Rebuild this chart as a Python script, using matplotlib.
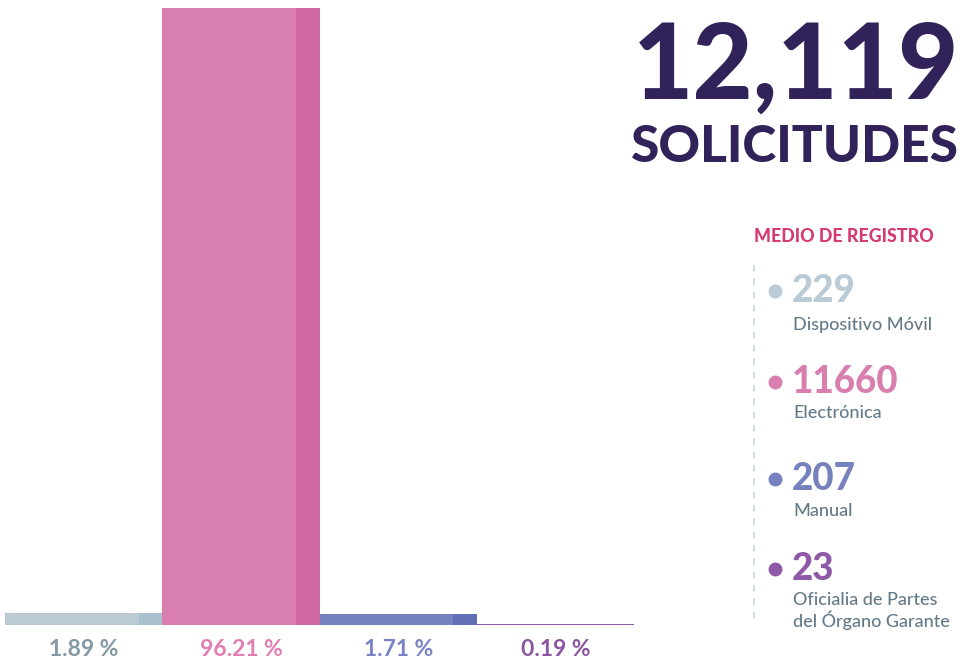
import matplotlib
matplotlib.use("Agg")
import matplotlib.pyplot as plt

categories = ["Dispositivo Móvil", "Electrónica", "Manual", "Oficialia de Partes\ndel Órgano Garante"]
counts = [229, 11660, 207, 23]
percents = [1.89, 96.21, 1.71, 0.19]
pct_labels = ["1.89 %", "96.21 %", "1.71 %", "0.19 %"]
total_label = "12,119"

main_colors = ["#bacbd6", "#d97fb0", "#7681c0", "#8e5aa8"]
dark_colors = ["#a9c0cd", "#d068a4", "#636db5", "#8e5aa8"]
pct_colors = ["#8399a3", "#e07fb2", "#7a84c4", "#8b559f"]
num_colors = ["#bacbd6", "#d97fb0", "#7681c0", "#8e5aa8"]
label_color = "#647a8a"
title_color = "#31225a"

W, H = 960, 659
fig = plt.figure(figsize=(W / 100, H / 100), dpi=100)

def fx(px):
    return px / W

def fy(py):
    return 1 - py / H

ax = fig.add_axes([fx(5), fy(625), fx(634) - fx(5), fy(8) - fy(625)])
n = len(percents)
xs = list(range(n))
ax.bar(xs, percents, width=1.0, align="edge", color=main_colors, linewidth=0)
ax.bar([x + 0.85 for x in xs], percents, width=0.15, align="edge", color=dark_colors, linewidth=0)
ax.set_xlim(0, n)
ax.set_ylim(0, max(percents))
ax.axis("off")

for x, lab, c in zip(xs, pct_labels, pct_colors):
    ax.annotate(lab, xy=(x + 0.5, 0), xycoords="data", xytext=(0, -24),
                textcoords="offset pixels", ha="center", va="center",
                fontsize=16.5, fontweight="bold", color=c, family="Lato")

# Title
fig.text(fx(959), fy(68), total_label, ha="right", va="center", fontsize=75,
         fontweight="black", color=title_color, family="Lato")
fig.text(fx(959), fy(147), "SOLICITUDES", ha="right", va="center", fontsize=37,
         fontweight="black", color=title_color, family="Lato")

fig.text(fx(754), fy(236), "MEDIO DE REGISTRO", ha="left", va="center", fontsize=12.8,
         fontweight="black", color="#d63a72", family="Lato")

# dashed line
fig.add_artist(plt.Line2D([fx(754), fx(754)], [fy(265), fy(622)], transform=fig.transFigure,
                          color="#c9d6de", linestyle=(0, (4, 4)), linewidth=1.2))

num_y = [291, 382, 479, 569]
lab_y = [325, 413, 511, 611]
for i in range(n):
    fig.add_artist(plt.Line2D([fx(775)], [fy(num_y[i])], transform=fig.transFigure,
                              marker="o", markersize=9, color=num_colors[i], linestyle="none"))
    fig.text(fx(792), fy(num_y[i]), str(counts[i]), ha="left", va="center", fontsize=26.5,
             fontweight="black", color=num_colors[i], family="Lato")
    fig.text(fx(793), fy(lab_y[i]), categories[i], ha="left", va="center", fontsize=13,
             fontweight="medium", color=label_color, family="Lato", linespacing=1.15)

fig.savefig("out.png", dpi=100)
